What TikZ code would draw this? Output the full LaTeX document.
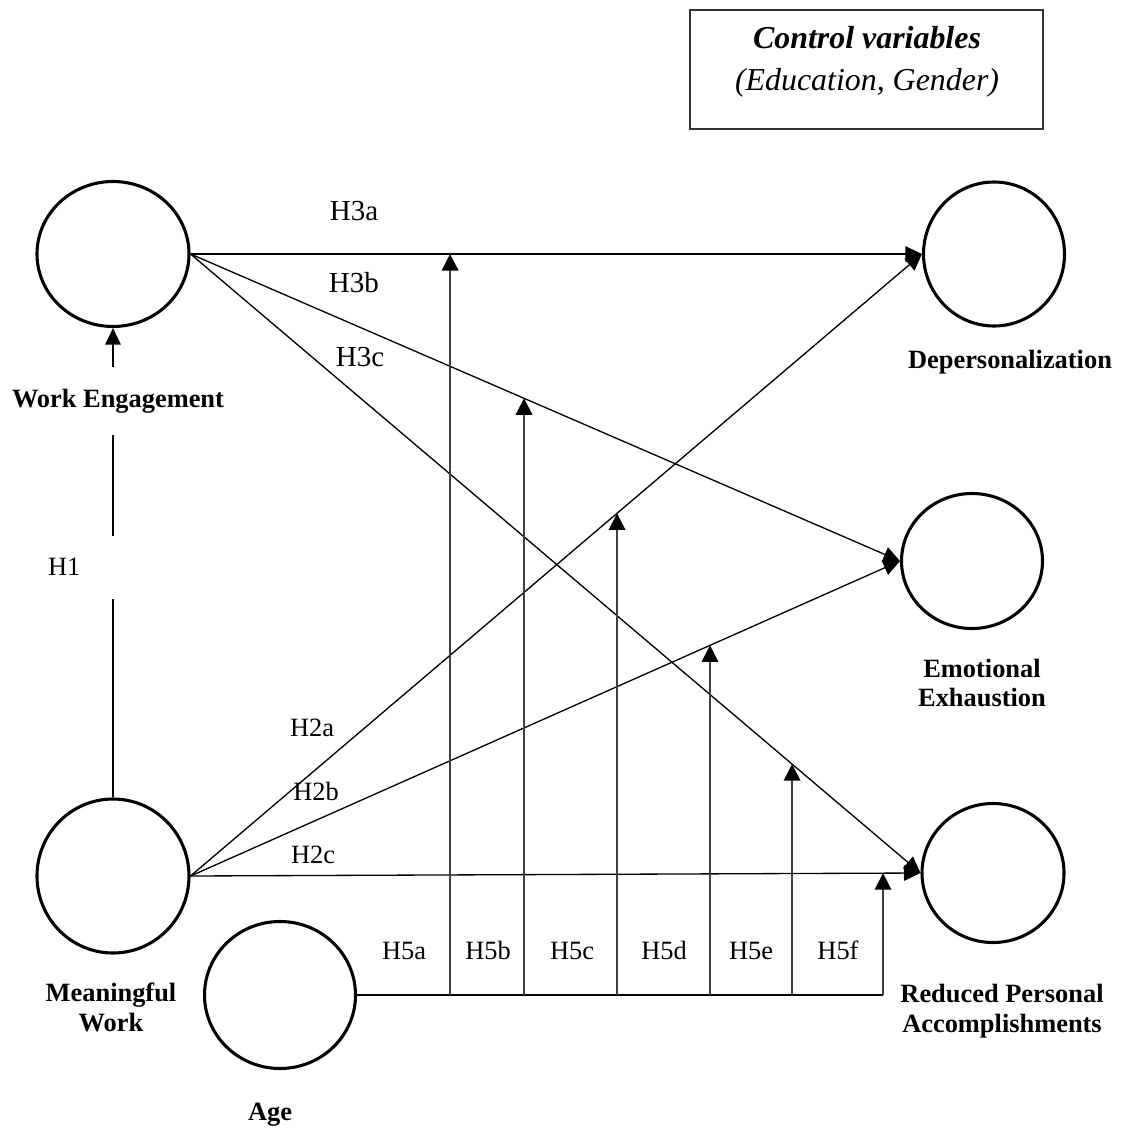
\documentclass[tikz,border=0pt,12pt]{standalone}
\usepackage{fontspec}
\setmainfont{Liberation Serif}
\usetikzlibrary{arrows.meta,shapes.geometric,calc}
\newcommand{\pxu}{0.4545pt}

\begin{document}
\begin{tikzpicture}[
    x=0.4545pt, y=-0.4545pt,
    construct/.style={ellipse, draw, line width=1.4pt, inner sep=0pt},
    path line/.style={line width=0.6pt, -{Triangle[length=7.5pt, width=7pt]}},
    moderator line/.style={line width=0.8pt, black!75, -{Triangle[length=7.5pt, width=7.5pt, color=black]}},
    hyp label/.style={font=\fontsize{12}{14}\selectfont, text height=1.6ex, text depth=0.2ex},
    big hyp label/.style={font=\fontsize{13.2}{15}\selectfont, text height=1.6ex, text depth=0.2ex},
    var label/.style={font=\fontsize{12}{13.6}\selectfont\bfseries, align=center}
]
\useasboundingbox (0,0) rectangle (1121,1133);

% Control box
\node[draw, black!80, line width=0.6pt, minimum width=353*\pxu, minimum height=119*\pxu] (ctrl) at (866.5,69.5) {};
\node[align=center, font=\fontsize{14.5}{19}\selectfont] (ctrltext) at (867,62)
    {\textbf{\textit{Control variables}}\\\textit{(Education, Gender)}};

% Constructs
\node[construct, minimum width=152*\pxu, minimum height=145*\pxu] (we) at (113,254) {};
\node[construct, minimum width=152*\pxu, minimum height=154*\pxu] (mw) at (113,876) {};
\node[construct, minimum width=151*\pxu, minimum height=147*\pxu] (age) at (280,995) {};
\node[construct, minimum width=141*\pxu, minimum height=144*\pxu] (dp) at (994,254) {};
\node[construct, minimum width=141*\pxu, minimum height=135*\pxu] (ee) at (972,561) {};
\node[construct, minimum width=142*\pxu, minimum height=139*\pxu] (rpa) at (993,873) {};

% Direct paths
\draw[path line] (we.east) -- (dp.west);
\draw[path line] (we.east) -- (ee.west);
\draw[path line] (we.east) -- (rpa.west);
\draw[path line] (mw.east) -- (dp.west);
\draw[path line] (mw.east) -- (ee.west);
\draw[path line] (mw.east) -- (rpa.west);
\draw[path line] (mw.north) -- (we.south);

% Moderation by age
\foreach \mx [count=\i] in {450,524,617,710,792,883} {
    \coordinate (m\i) at (\mx,995);
    \coordinate (t\i) at (\mx,0);
}
\draw[line width=0.8pt] (age.east) -- (age.east -| m6);
\draw[moderator line] (age.east -| m1) -- (intersection of we.east--dp.west and m1--t1);
\draw[moderator line] (age.east -| m2) -- (intersection of we.east--ee.west and m2--t2);
\draw[moderator line] (age.east -| m3) -- (intersection of mw.east--dp.west and m3--t3);
\draw[moderator line] (age.east -| m4) -- (intersection of mw.east--ee.west and m4--t4);
\draw[moderator line] (age.east -| m5) -- (intersection of we.east--rpa.west and m5--t5);
\draw[moderator line] (age.east -| m6) -- (intersection of mw.east--rpa.west and m6--t6);

% Hypothesis labels
\node[big hyp label] (h3a) at (354,212) {H3a};
\node[big hyp label] (h3b) at (354,284) {H3b};
\node[big hyp label] (h3c) at (360,358) {H3c};
\node[hyp label] (h2a) at (312,728) {H2a};
\node[hyp label] (h2b) at (316,792) {H2b};
\node[hyp label] (h2c) at (313,855) {H2c};
\node[font=\fontsize{12}{14}\selectfont, fill=white, text width=64*\pxu, align=left, inner xsep=6*\pxu, inner ysep=0pt, minimum height=63*\pxu] (h1) at (80,567) {H1};
\foreach \lx/\lt in {404/H5a,488/H5b,572/H5c,664/H5d,751/H5e,838/H5f}
    \node[hyp label] (\lt) at (\lx,951) {\lt};

% Construct names
\node[var label, fill=white, minimum height=68*\pxu, inner ysep=0pt] (welabel) at (118,401) {Work Engagement};
\node[var label] (dplabel) at (1010,362) {Depersonalization};
\node[var label] (eelabel) at (982,683) {Emotional\\Exhaustion};
\node[var label] (mwlabel) at (111,1007) {Meaningful\\Work};
\node[var label] (rpalabel) at (1002,1011) {Reduced Personal\\Accomplishments};
\node[var label] (agelabel) at (270,1115) {Age};

\end{tikzpicture}
\end{document}
